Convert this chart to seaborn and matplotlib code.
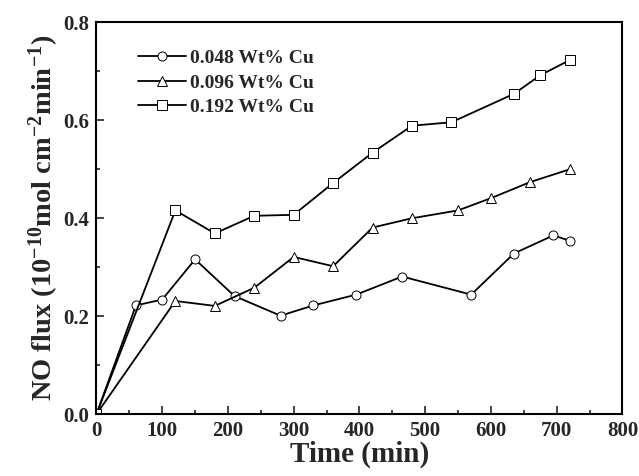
import numpy as np
import pandas as pd
import matplotlib
matplotlib.use("Agg")
import matplotlib.pyplot as plt
import seaborn as sns

# series (time in min, NO flux)
t_048 = [0, 60, 100, 150, 210, 280, 330, 395, 465, 570, 635, 695, 720]
f_048 = [0, 0.222, 0.234, 0.316, 0.241, 0.201, 0.222, 0.244, 0.281, 0.244, 0.328, 0.365, 0.354]

t_096 = [0, 120, 180, 240, 300, 360, 420, 480, 550, 600, 660, 720]
f_096 = [0, 0.231, 0.221, 0.258, 0.321, 0.302, 0.381, 0.400, 0.416, 0.441, 0.474, 0.500]

t_192 = [0, 120, 180, 240, 300, 360, 420, 480, 540, 635, 675, 720]
f_192 = [0, 0.416, 0.369, 0.405, 0.407, 0.472, 0.534, 0.589, 0.596, 0.654, 0.692, 0.723]

labels = ["0.048 Wt% Cu", "0.096 Wt% Cu", "0.192 Wt% Cu"]
markers = ["o", "^", "s"]

sns.set_style("ticks")
plt.rcParams['font.family'] = ['Liberation Serif', 'DejaVu Serif']
plt.rcParams['font.weight'] = 'bold'
plt.rcParams['mathtext.fontset'] = 'custom'
plt.rcParams['mathtext.rm'] = 'Liberation Serif:bold'
plt.rcParams['mathtext.bf'] = 'Liberation Serif:bold'
plt.rcParams['mathtext.it'] = 'Liberation Serif:bold'
plt.rcParams['mathtext.default'] = 'bf'

fig = plt.figure(figsize=(6.39, 4.76), dpi=100)
ax = fig.add_axes([0.151, 0.130, 0.823, 0.823])

for t, f, lab, m in zip([t_048, t_096, t_192], [f_048, f_096, f_192], labels, markers):
    df = pd.DataFrame({"time": t, "flux": f})
    sns.lineplot(data=df, x="time", y="flux", ax=ax, color="black", lw=1.3,
                 marker=m, markersize=6.5, markerfacecolor="white",
                 markeredgecolor="black", markeredgewidth=0.7, label=lab, sort=False)

ax.set_xlim(0, 800)
ax.set_ylim(0, 0.8)
ax.set_xticks(np.arange(0, 801, 100))
ax.set_xticks(np.arange(0, 801, 50), minor=True)
ax.set_yticks(np.arange(0, 0.81, 0.2))
ax.set_yticks(np.arange(0, 0.81, 0.1), minor=True)
ax.yaxis.set_major_formatter(matplotlib.ticker.FormatStrFormatter('%.1f'))
ax.tick_params(direction='in', which='both', labelsize=15, width=1.2)
ax.tick_params(which='major', length=6, pad=5)
ax.tick_params(which='minor', length=3)
for s in ax.spines.values():
    s.set_linewidth(1.5)
    s.set_color('black')

ax.set_xlabel("Time (min)", fontsize=21, fontweight='bold', labelpad=0)
ax.set_ylabel(r"NO flux (10$^{-10}$mol cm$^{-2}$min$^{-1}$)", fontsize=20.5,
              fontweight='bold', labelpad=2)

ax.legend(loc='upper left', bbox_to_anchor=(0.045, 0.975), frameon=False,
          fontsize=14, handlelength=2.5, handletextpad=0.2, labelspacing=0.35)

fig.savefig("out.png", dpi=100)
